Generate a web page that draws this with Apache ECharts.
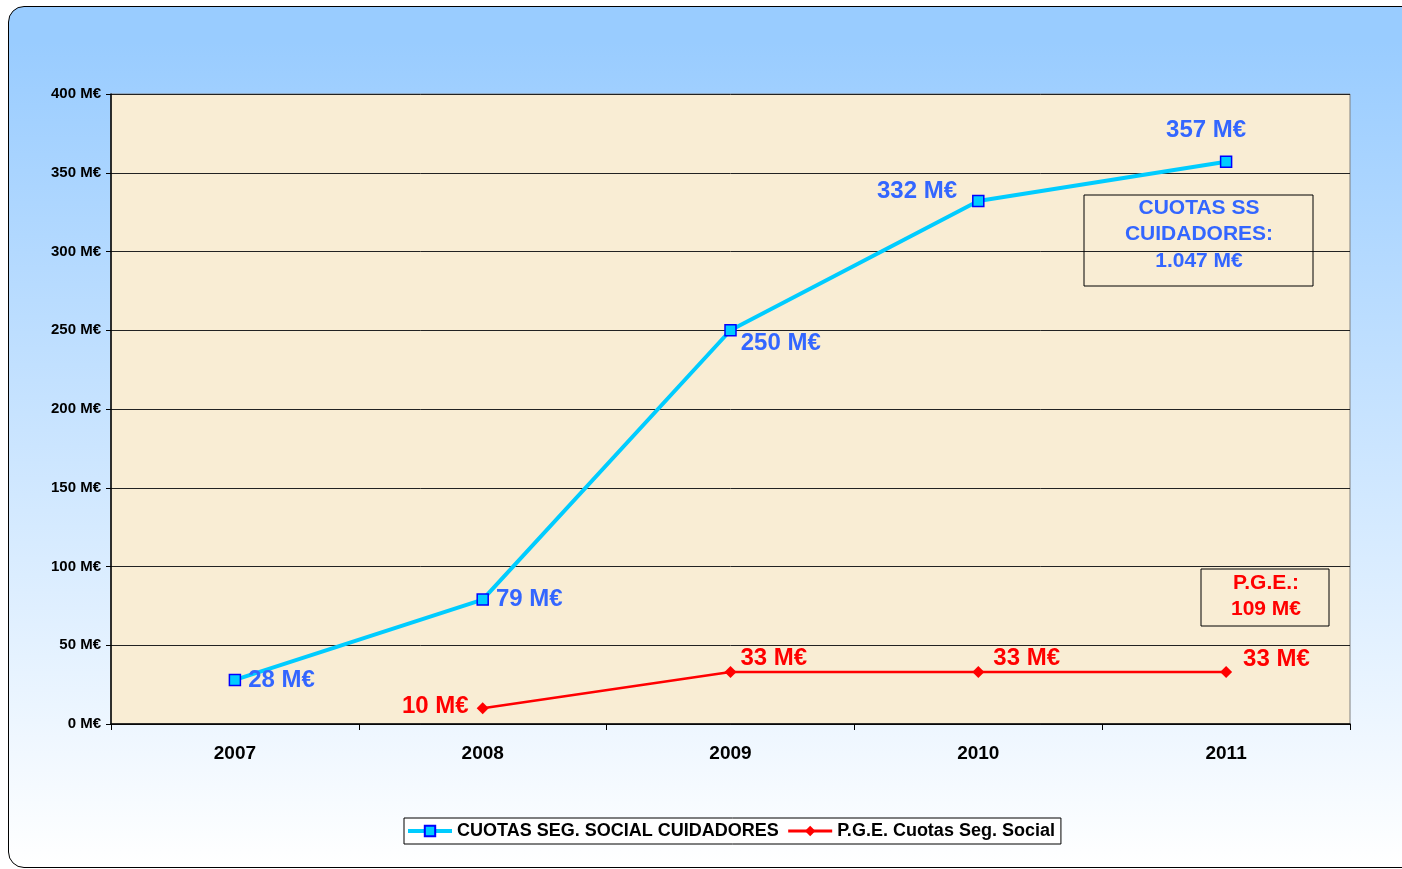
<!DOCTYPE html>
<html>
<head>
<meta charset="utf-8">
<script src="https://cdn.jsdelivr.net/npm/echarts@6/dist/echarts.min.js"></script>
<style>
  html, body { margin: 0; padding: 0; background: #fff; }
  #frame {
    position: absolute; left: 8px; top: 6px; width: 1420px; height: 860px;
    border: 1.5px solid #000; border-radius: 16px;
    background: linear-gradient(#99CCFF 4%, #FFFFFF 100%);
  }
  #main { position: absolute; left: 0; top: 0; width: 1402px; height: 869px; }
</style>
</head>
<body>
<div id="frame"></div>
<div id="main"></div>
<script>
// datos
const years = ['2007', '2008', '2009', '2010', '2011'];
const cuotasSS = [28, 79, 250, 332, 357];
const pgeCuotas = [null, 10, 33, 33, 33];
const seriesNames = ['CUOTAS SEG. SOCIAL CUIDADORES', 'P.G.E. Cuotas Seg. Social'];
const totalCuotas = ['CUOTAS SS', 'CUIDADORES:', '1.047 M€'];
const totalPge = ['P.G.E.:', '109 M€'];

const FONT = '"Liberation Sans", Arial, sans-serif';
const BLUE_TXT = '#3366FF';

// colocacion de las etiquetas (punto a punto)
const blueLabelPos = [
  { position: 'right', distance: 7, offset: [0, 0] },
  { position: 'right', distance: 7, offset: [0, 0] },
  { position: 'right', distance: 4, offset: [0, 13] },
  { position: 'left', distance: 15, offset: [0, -10] },
  { position: 'top', distance: 13, offset: [-20, 0] }
];
const redLabelPos = [
  null,
  { position: 'left', distance: 8, offset: [0, -2] },
  { position: 'right', distance: 4, offset: [0, -14] },
  { position: 'right', distance: 9, offset: [0, -14] },
  { position: 'right', distance: 11, offset: [0, -13] }
];

const blueData = cuotasSS.map((v, i) => ({ value: v, label: blueLabelPos[i] }));
const redData = pgeCuotas.map((v, i) => (v == null ? null : { value: v, label: redLabelPos[i] }));

function boxText(lines, cx, y0, lh, color) {
  return lines.map((t, i) => ({
    type: 'text',
    x: cx, y: y0 + i * lh,
    style: {
      text: t, fill: color, font: 'bold 21px ' + FONT,
      textAlign: 'center', textVerticalAlign: 'middle'
    }
  }));
}

const myChart = echarts.init(document.getElementById('main'));
const option = {
  backgroundColor: 'transparent',
  animation: false,
  textStyle: { fontFamily: FONT },
  grid: {
    left: 111, right: 52, top: 94, bottom: 145,
    show: true, backgroundColor: '#F9EDD4', borderColor: '#808080', borderWidth: 1
  },
  legend: {
    left: 404, top: 818,
    backgroundColor: '#fff', borderColor: '#000', borderWidth: 1,
    padding: [4, 6, 4, 2], itemGap: 8, itemWidth: 44, itemHeight: 13,
    textStyle: { fontFamily: FONT, fontWeight: 'bold', fontSize: 18, color: '#000' },
    data: [
      { name: seriesNames[0], lineStyle: { width: 4 } },
      { name: seriesNames[1], lineStyle: { width: 3 } }
    ]
  },
  xAxis: {
    type: 'category', data: years, boundaryGap: true,
    axisLine: { lineStyle: { color: '#000', width: 1.5 } },
    axisTick: { show: true, length: 6, lineStyle: { color: '#000' } },
    axisLabel: { margin: 20, fontFamily: FONT, fontWeight: 'bold', fontSize: 19, color: '#000' }
  },
  yAxis: {
    type: 'value', min: 0, max: 400, interval: 50,
    axisLine: { show: true, lineStyle: { color: '#000', width: 1.5 } },
    axisTick: { show: true, length: 5, lineStyle: { color: '#000' } },
    axisLabel: {
      margin: 10, fontFamily: FONT, fontWeight: 'bold', fontSize: 15, color: '#000',
      formatter: v => v + ' M€'
    },
    splitLine: { lineStyle: { color: '#222', width: 1 } }
  },
  series: [
    {
      name: seriesNames[0], type: 'line', data: blueData,
      symbol: 'rect', symbolSize: 11,
      lineStyle: { color: '#00CCFF', width: 4 },
      itemStyle: { color: '#00CCFF', borderColor: '#0000FF', borderWidth: 1.5 },
      label: {
        show: true, formatter: '{c} M€', color: BLUE_TXT,
        fontFamily: FONT, fontWeight: 'bold', fontSize: 24
      },
      z: 3
    },
    {
      name: seriesNames[1], type: 'line', data: redData,
      symbol: 'diamond', symbolSize: 12,
      lineStyle: { color: '#FF0000', width: 2.5 },
      itemStyle: { color: '#FF0000' },
      label: {
        show: true, formatter: '{c} M€', color: '#FF0000',
        fontFamily: FONT, fontWeight: 'bold', fontSize: 24
      },
      z: 2
    }
  ],
  graphic: [
    {
      type: 'rect', shape: { x: 1084, y: 195, width: 229, height: 91 },
      style: { fill: 'rgba(0,0,0,0)', stroke: '#000', lineWidth: 1 }, z: 10
    },
    ...boxText(totalCuotas, 1199, 208, 26.5, BLUE_TXT),
    {
      type: 'rect', shape: { x: 1201, y: 569, width: 128, height: 57 },
      style: { fill: 'rgba(0,0,0,0)', stroke: '#000', lineWidth: 1 }, z: 10
    },
    ...boxText(totalPge, 1266, 583, 26.5, '#FF0000')
  ]
};
myChart.setOption(option);
</script>
</body>
</html>
